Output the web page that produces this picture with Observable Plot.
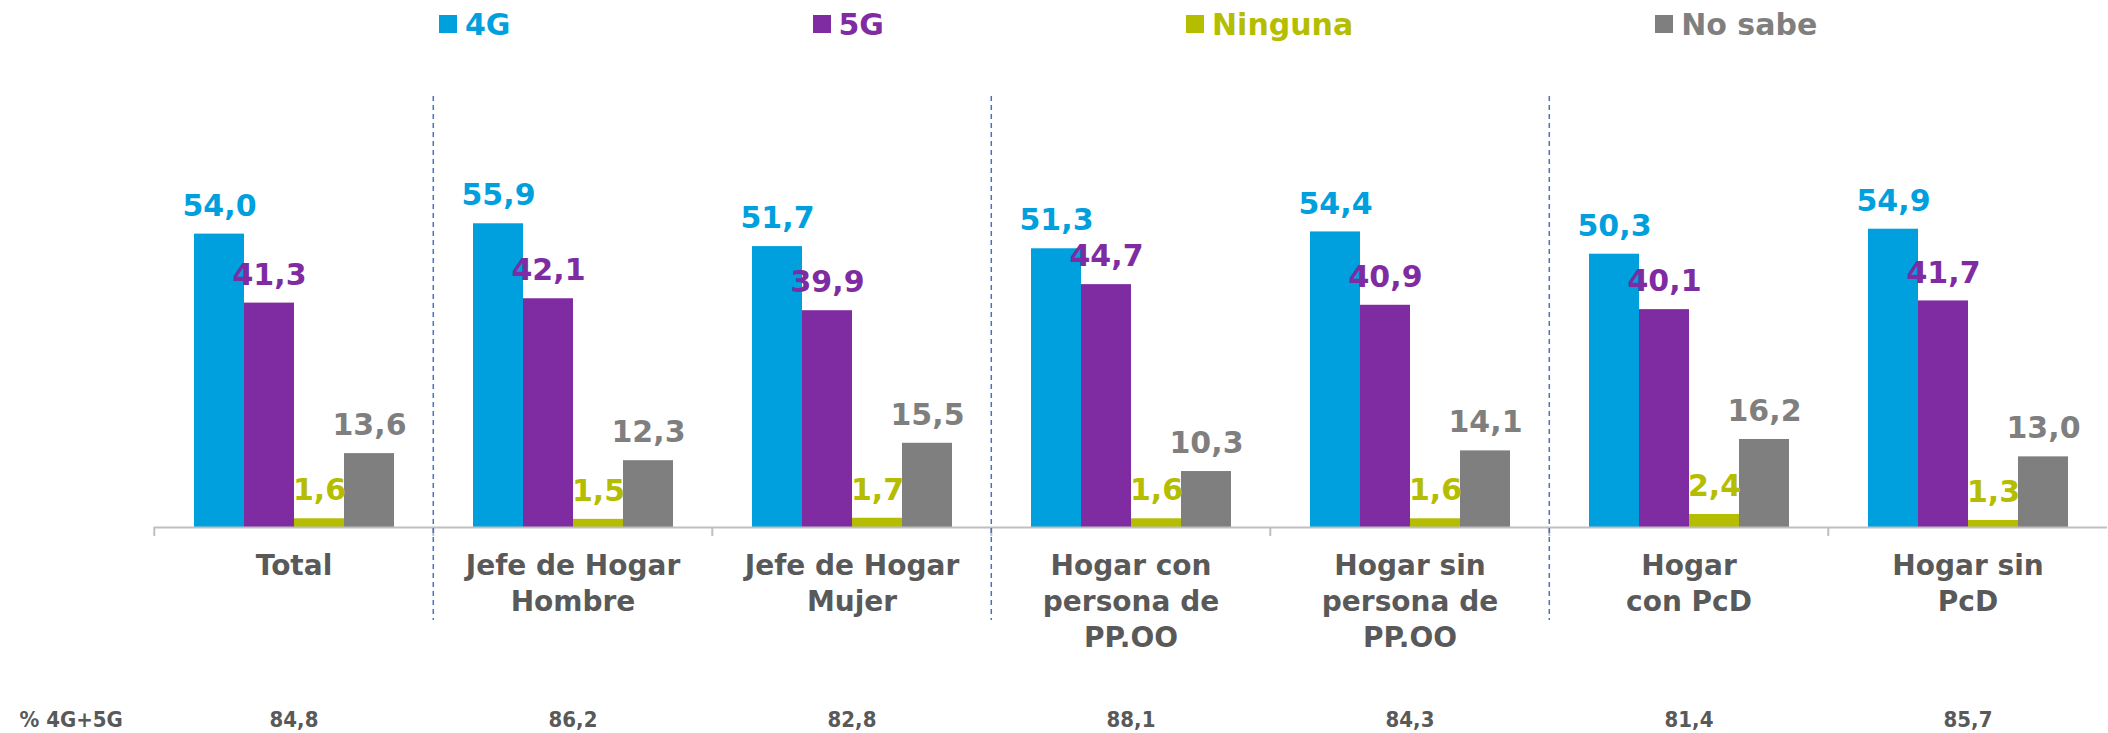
<!DOCTYPE html>
<html>
<head>
<meta charset="utf-8">
<script src="https://cdn.jsdelivr.net/npm/d3@7"></script>
<script src="https://cdn.jsdelivr.net/npm/@observablehq/plot@0.6"></script>
<style>
  html, body { margin: 0; padding: 0; background: #fff; }
  #legend { display: flex; align-items: center; height: 48px; margin-left: 439px; gap: 302px;
    font-family: "DejaVu Sans", sans-serif; font-weight: bold; font-size: 30px; }
  #legend .item { display: flex; align-items: center; gap: 8px; white-space: nowrap; }
  #legend .sw { width: 18px; height: 18px; display: inline-block; }
</style>
</head>
<body>
<div id="legend"></div>
<div id="chart"></div>
<script>
// ---- data ----
const categories = [
  "Total",
  "Jefe de Hogar\nHombre",
  "Jefe de Hogar\nMujer",
  "Hogar con\npersona de\nPP.OO",
  "Hogar sin\npersona de\nPP.OO",
  "Hogar\ncon PcD",
  "Hogar sin\nPcD"
];
const series = ["4G", "5G", "Ninguna", "No sabe"];
const colors = ["#00A0DF", "#7F2CA3", "#B5BD00", "#7F7F7F"];
const values4G      = [54.0, 55.9, 51.7, 51.3, 54.4, 50.3, 54.9];
const values5G      = [41.3, 42.1, 39.9, 44.7, 40.9, 40.1, 41.7];
const valuesNinguna = [1.6, 1.5, 1.7, 1.6, 1.6, 2.4, 1.3];
const valuesNoSabe  = [13.6, 12.3, 15.5, 10.3, 14.1, 16.2, 13.0];
const totals4G5G    = [84.8, 86.2, 82.8, 88.1, 84.3, 81.4, 85.7];
const totalsLabel = "% 4G+5G";
const separatorsBefore = ["Jefe de Hogar\nHombre", "Hogar con\npersona de\nPP.OO", "Hogar\ncon PcD"];

const seriesValues = [values4G, values5G, valuesNinguna, valuesNoSabe];
const rows = [];
categories.forEach((c, i) => series.forEach((s, j) => rows.push({cat: c, series: s, value: seriesValues[j][i]})));
const totalRows = categories.map((c, i) => ({cat: c, value: totals4G5G[i]}));

const fmt = v => v.toFixed(1).replace(".", ",");

// ---- legend ----
const legend = document.getElementById("legend");
series.forEach((s, j) => {
  const item = document.createElement("div");
  item.className = "item";
  item.innerHTML = `<span class="sw" style="background:${colors[j]}"></span><span style="color:${colors[j]}">${s}</span>`;
  legend.appendChild(item);
});

// ---- layout ----
const W = 2108, H = 685, mL = 152, mR = 0, mT = 153, mB = 206;
const fw = (W - mL - mR) / categories.length;
const frameH = H - mT - mB;
const gray = "#595959";

const chart = Plot.plot({
  width: W, height: H,
  marginLeft: mL, marginRight: mR, marginTop: mT, marginBottom: mB,
  style: {fontFamily: "DejaVu Sans, sans-serif", background: "white"},
  fx: {domain: categories, padding: 0, axis: null},
  x: {domain: series, paddingInner: 0, paddingOuter: 0.75, axis: null},
  y: {domain: [0, 60], axis: null},
  color: {domain: series, range: colors},
  marks: [
    Plot.barY(rows, {fx: "cat", x: "series", y: "value", fill: "series"}),
    Plot.ruleY([0], {stroke: "#BFBFBF", strokeWidth: 2}),
    // tick marks between categories
    Plot.ruleX(categories, {fx: d => d, x: null, dx: -fw / 2, stroke: "#BFBFBF", strokeWidth: 2, insetTop: frameH, insetBottom: -9}),
    // dashed separators
    Plot.ruleX(separatorsBefore, {fx: d => d, x: null, dx: -fw / 2, stroke: "#4472C4", strokeWidth: 1.5, strokeDasharray: "5,4", insetTop: -105, insetBottom: -93}),
    // value labels
    Plot.text(rows, {fx: "cat", x: "series", y: "value", text: d => fmt(d.value), fill: "series",
      dy: -28, fontSize: 30, fontWeight: "bold"}),
    // category labels
    Plot.text(categories, {fx: d => d, text: d => d, frameAnchor: "bottom", lineAnchor: "top",
      dy: 22, fontSize: 28, fontWeight: "bold", fill: gray, lineHeight: 1.286}),
    // totals row
    Plot.text(totalRows, {fx: "cat", text: d => fmt(d.value), frameAnchor: "bottom", dy: 199,
      fontSize: 22, fontWeight: "bold", fill: gray, fontFamily: "DejaVu Sans Condensed, DejaVu Sans, sans-serif", fontStretch: "condensed"}),
    Plot.text([totalsLabel], {fx: () => categories[0], text: d => d, frameAnchor: "bottom-left", textAnchor: "start",
      dx: -(mL - 17), dy: 199, fontSize: 22, fontWeight: "bold", fill: gray,
      fontFamily: "DejaVu Sans Condensed, DejaVu Sans, sans-serif", fontStretch: "condensed"})
  ]
});
document.getElementById("chart").appendChild(chart);
</script>
</body>
</html>
